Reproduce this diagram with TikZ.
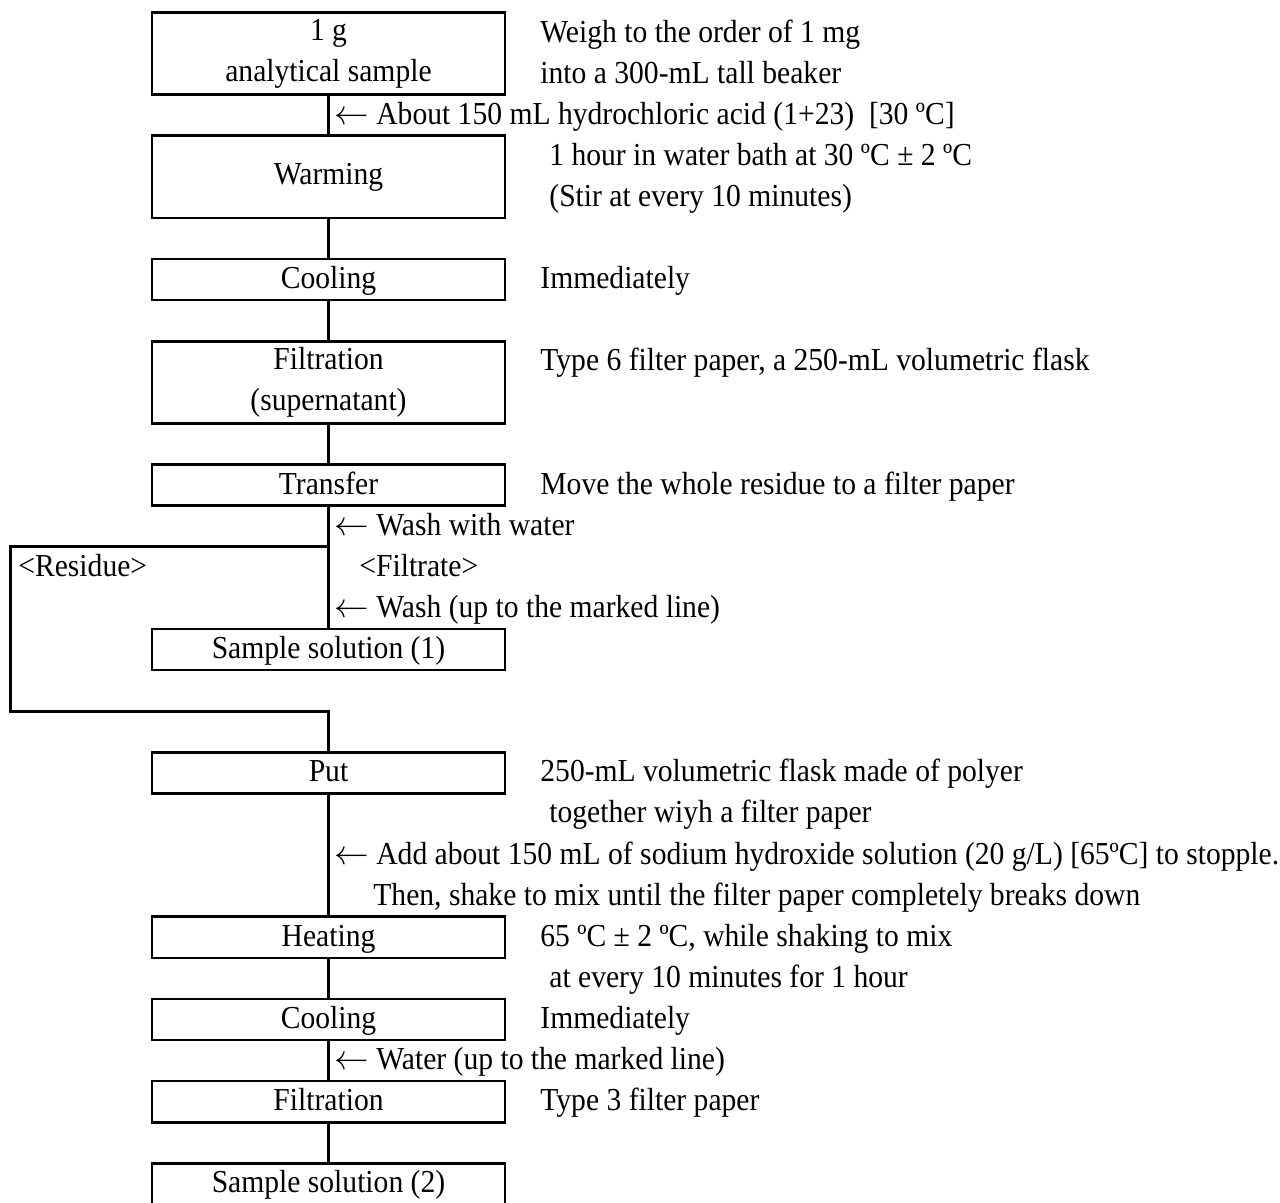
\documentclass[tikz,border=0pt]{standalone}
\usepackage{fontspec}
\setmainfont{Liberation Serif}[FakeStretch=0.925]
\usepackage{tikz}
\usetikzlibrary{positioning}
\tikzset{
  stepbox/.style={rectangle,draw,line width=1.3pt,minimum width=176.5pt,
    minimum height=20.55pt,inner sep=0pt,outer sep=0pt,text height=11pt,
    text depth=2pt},
  tallbox/.style={rectangle,draw,line width=1.3pt,minimum width=176.5pt,
    minimum height=41.1pt,inner sep=0pt,outer sep=0pt,align=center},
  % side remarks: one text row each
  note/.style={anchor=west,inner sep=0pt,text height=11pt,text depth=2pt},
  flow/.style={line width=1.3pt}
}
\newcommand{\addarrow}{$\leftarrow$\ }
\begin{document}
\begin{tikzpicture}[x=0.5pt,y=-20.55pt,node distance=20.55pt,
    font=\fontsize{16pt}{20.55pt}\selectfont]
  \useasboundingbox (0,-0.304) rectangle (1280,28.966);
  % main column
  \node[tallbox] (sample) at (328.5,1) {1 g\\analytical sample};
  \node[tallbox,below=of sample] (warm) {Warming};
  \node[stepbox,below=of warm] (cool) {Cooling};
  \node[tallbox,below=of cool] (filt) {Filtration\\(supernatant)};
  \node[stepbox,below=of filt] (transfer) {Transfer};
  \node[stepbox,below=61.65pt of transfer] (sol1) {Sample solution (1)};
  \node[stepbox,below=41.1pt of sol1] (put) {Put};
  \node[stepbox,below=61.65pt of put] (heat) {Heating};
  \node[stepbox,below=of heat] (cool2) {Cooling};
  \node[stepbox,below=of cool2] (filt2) {Filtration};
  \node[stepbox,below=of filt2] (sol2) {Sample solution (2)};
  \draw[flow] (sample) -- (warm);
  \draw[flow] (warm) -- (cool);
  \draw[flow] (cool) -- (filt);
  \draw[flow] (filt) -- (transfer);
  \draw[flow] (transfer) -- (sol1);
  % residue goes round to the second part
  \coordinate (split) at (328.5,13);
  \coordinate (resid) at (10.5,13);
  \coordinate (back) at (328.5,17);
  \draw[flow] (split) -- (resid) |- (back) -- (put);
  \draw[flow] (put) -- (heat);
  \draw[flow] (heat) -- (cool2);
  \draw[flow] (cool2) -- (filt2);
  \draw[flow] (filt2) -- (sol2);
  % remarks
  \node[note] (weigh) at (540,0.5) {Weigh to the order of 1 mg};
  \node[note] (beaker) at (540,1.5) {into a 300-mL tall beaker};
  \node[note] (acid) at (334,2.5) {\addarrow About 150 mL hydrochloric acid (1+23)\ \ [30 ºC]};
  \node[note] (bath) at (549,3.5) {1 hour in water bath at 30 ºC ± 2 ºC};
  \node[note] (stir) at (549,4.5) {(Stir at every 10 minutes)};
  \node[note] (now) at (540,6.5) {Immediately};
  \node[note] (paper6) at (540,8.5) {Type 6 filter paper, a 250-mL volumetric flask};
  \node[note] (move) at (540,11.5) {Move the whole residue to a filter paper};
  \node[note] (wash) at (334,12.5) {\addarrow Wash with water};
  \node[note] (residue) at (18,13.5) {<Residue>};
  \node[note] (filtrate) at (359,13.5) {<Filtrate>};
  \node[note] (mark) at (334,14.5) {\addarrow Wash (up to the marked line)};
  \node[note] (flask) at (540,18.5) {250-mL volumetric flask made of polyer};
  \node[note] (with) at (549,19.5) {together wiyh a filter paper};
  \node[note] (naoh) at (334,20.5) {\addarrow Add about 150 mL of sodium hydroxide solution (20 g/L) [65ºC] to stopple.};
  \node[note] (shake) at (373,21.5) {Then, shake to mix until the filter paper completely breaks down};
  \node[note] (temp) at (540,22.5) {65 ºC ± 2 ºC, while shaking to mix};
  \node[note] (every) at (549,23.5) {at every 10 minutes for 1 hour};
  \node[note] (now2) at (540,24.5) {Immediately};
  \node[note] (water) at (334,25.5) {\addarrow Water (up to the marked line)};
  \node[note] (paper3) at (540,26.5) {Type 3 filter paper};
\end{tikzpicture}
\end{document}
